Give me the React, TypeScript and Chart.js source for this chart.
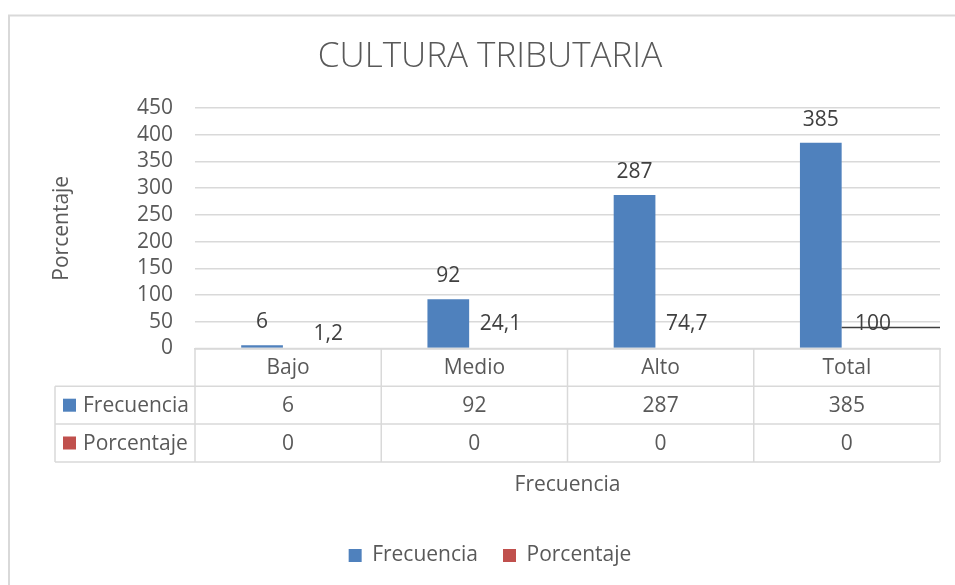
import React, { useEffect, useRef } from 'react';
import { Chart, registerables } from 'chart.js';

Chart.register(...registerables);

// ---------- data ----------
const categories = ['Bajo', 'Medio', 'Alto', 'Total'];
const frecuencia = [6, 92, 287, 385];
const porcentaje = [0, 0, 0, 0];
const porcentajeLabels = [1.2, 24.1, 74.7, 100];
const yMin = 0;
const yMax = 450;
const yStep = 50;

// ---------- style ----------
const FONT = "'Open Sans', 'Noto Sans', sans-serif";
const TITLE_FONT = "'Open Sans', 'Noto Sans', sans-serif";
const TEXT = '#595959';
const LABEL = '#404040';
const GRID = '#d9d9d9';
const BLUE = '#4f81bd';
const RED = '#c0504d';
const FS = 21;
const pctLabelDx = [14, 0, 0, 0];
const pctLabelDy = [14, 24, 24, 24];

const fmt = (v: number) => String(v).replace('.', ',');

const borderPlugin = {
  id: 'frameBorder',
  beforeDraw(chart: any) {
    const ctx = chart.ctx;
    ctx.save();
    ctx.strokeStyle = GRID;
    ctx.lineWidth = 2;
    ctx.beginPath();
    ctx.moveTo(9, 2000);
    ctx.lineTo(9, 15.5);
    ctx.lineTo(2000, 15.5);
    ctx.stroke();
    ctx.restore();
  },
};

const labelsPlugin = {
  id: 'barLabels',
  afterDatasetsDraw(chart: any) {
    const ctx = chart.ctx;
    const m0 = chart.getDatasetMeta(0);
    const m1 = chart.getDatasetMeta(1);
    ctx.save();
    ctx.font = `${FS}px ${FONT}`;
    ctx.fillStyle = LABEL;
    ctx.textAlign = 'center';
    ctx.textBaseline = 'middle';
    m0.data.forEach((el: any, i: number) => {
      ctx.fillText(String(frecuencia[i]), el.x, el.y - 23);
    });
    m1.data.forEach((el: any, i: number) => {
      ctx.fillText(fmt(porcentajeLabels[i]), el.x + pctLabelDx[i], el.y - pctLabelDy[i]);
    });
    // stray dark line through the last label
    const last = categories.length - 1;
    const fb = m0.data[last];
    const pb = m1.data[last];
    ctx.strokeStyle = '#404040';
    ctx.lineWidth = 1.5;
    ctx.beginPath();
    ctx.moveTo(fb.x + fb.width / 2, pb.y - pctLabelDy[last] + 3);
    ctx.lineTo(chart.chartArea.right, pb.y - pctLabelDy[last] + 3);
    ctx.stroke();
    ctx.restore();
  },
};

const tablePlugin = {
  id: 'dataTable',
  afterDraw(chart: any) {
    const ctx = chart.ctx;
    const xs = chart.scales.x;
    const area = chart.chartArea;
    const n = categories.length;
    const w = (xs.getPixelForValue(1) - xs.getPixelForValue(0));
    const left0 = xs.getPixelForValue(0) - w / 2;
    const top = area.bottom;
    const rowH = 37.8;
    const tableLeft = 55;
    const rows = [top, top + rowH, top + 2 * rowH, top + 3 * rowH];
    ctx.save();
    ctx.strokeStyle = GRID;
    ctx.lineWidth = 1.5;
    ctx.beginPath();
    ctx.moveTo(left0, rows[0]);
    ctx.lineTo(area.right, rows[0]);
    for (let r = 1; r <= 3; r++) {
      ctx.moveTo(tableLeft, rows[r]);
      ctx.lineTo(area.right, rows[r]);
    }
    ctx.moveTo(tableLeft, rows[1]);
    ctx.lineTo(tableLeft, rows[3]);
    for (let k = 0; k <= n; k++) {
      const x = left0 + k * w;
      ctx.moveTo(x, rows[0]);
      ctx.lineTo(x, rows[3]);
    }
    ctx.stroke();

    ctx.font = `${FS}px ${FONT}`;
    ctx.fillStyle = TEXT;
    ctx.textAlign = 'center';
    ctx.textBaseline = 'middle';
    for (let i = 0; i < n; i++) {
      const cx = xs.getPixelForValue(i);
      ctx.fillText(categories[i], cx, rows[0] + rowH / 2 + 1);
      ctx.fillText(String(frecuencia[i]), cx, rows[1] + rowH / 2 + 1);
      ctx.fillText(String(porcentaje[i]), cx, rows[2] + rowH / 2 + 1);
    }
    const series = chart.data.datasets;
    ctx.textAlign = 'left';
    series.forEach((ds: any, r: number) => {
      const cy = rows[r + 1] + rowH / 2;
      ctx.fillStyle = ds.backgroundColor;
      ctx.fillRect(63, cy - 6.5, 13, 13);
      ctx.fillStyle = TEXT;
      ctx.fillText(ds.label, 83, cy + 1);
    });
    ctx.restore();
  },
};

export default function App() {
  const ref = useRef<HTMLCanvasElement | null>(null);
  useEffect(() => {
    if (!ref.current) return;
    const chart = new Chart(ref.current, {
      type: 'bar',
      data: {
        labels: categories,
        datasets: [
          { label: 'Frecuencia', data: frecuencia, backgroundColor: BLUE, barPercentage: 0.8, categoryPercentage: 0.56 },
          { label: 'Porcentaje', data: porcentaje, backgroundColor: RED, barPercentage: 0.8, categoryPercentage: 0.56 },
        ],
      },
      options: {
        responsive: false,
        animation: false,
        layout: { padding: { left: 40, right: 15, top: 15, bottom: 9 } },
        plugins: {
          title: {
            display: true,
            text: 'CULTURA TRIBUTARIA',
            color: TEXT,
            font: { family: TITLE_FONT, size: 35, weight: 300 as any },
            padding: { top: 21, bottom: 30 },
          },
          legend: {
            position: 'bottom',
            labels: {
              color: TEXT,
              font: { family: FONT, size: FS },
              boxWidth: 13,
              boxHeight: 13,
              padding: 25,
            },
          },
          tooltip: { enabled: false },
        },
        scales: {
          x: {
            grid: { display: false, drawTicks: false },
            border: { display: true, color: GRID, width: 1.5 },
            ticks: { display: false },
            title: {
              display: true,
              text: 'Frecuencia',
              color: TEXT,
              font: { family: FONT, size: FS },
              padding: { top: 0, bottom: 22 },
            },
            afterFit: (s: any) => { s.height = 171.5; },
          },
          y: {
            min: yMin,
            max: yMax,
            ticks: { stepSize: yStep, autoSkip: false, color: TEXT, font: { family: FONT, size: FS }, padding: 22 },
            grid: { color: GRID, lineWidth: 1.5, drawTicks: false },
            border: { display: false },
            title: {
              display: true,
              text: 'Porcentaje',
              color: TEXT,
              font: { family: FONT, size: FS },
              padding: { top: 9.4, bottom: 0 },
            },
            afterFit: (s: any) => { s.width = 155; },
          },
        },
      },
      plugins: [borderPlugin, labelsPlugin, tablePlugin],
    });
    return () => chart.destroy();
  }, []);
  return (
    <div style={{ position: 'absolute', left: 0, top: 0, width: 955, height: 585, background: '#fff' }}>
      <canvas ref={ref} width={955} height={585} style={{ display: 'block' }} />
    </div>
  );
}
